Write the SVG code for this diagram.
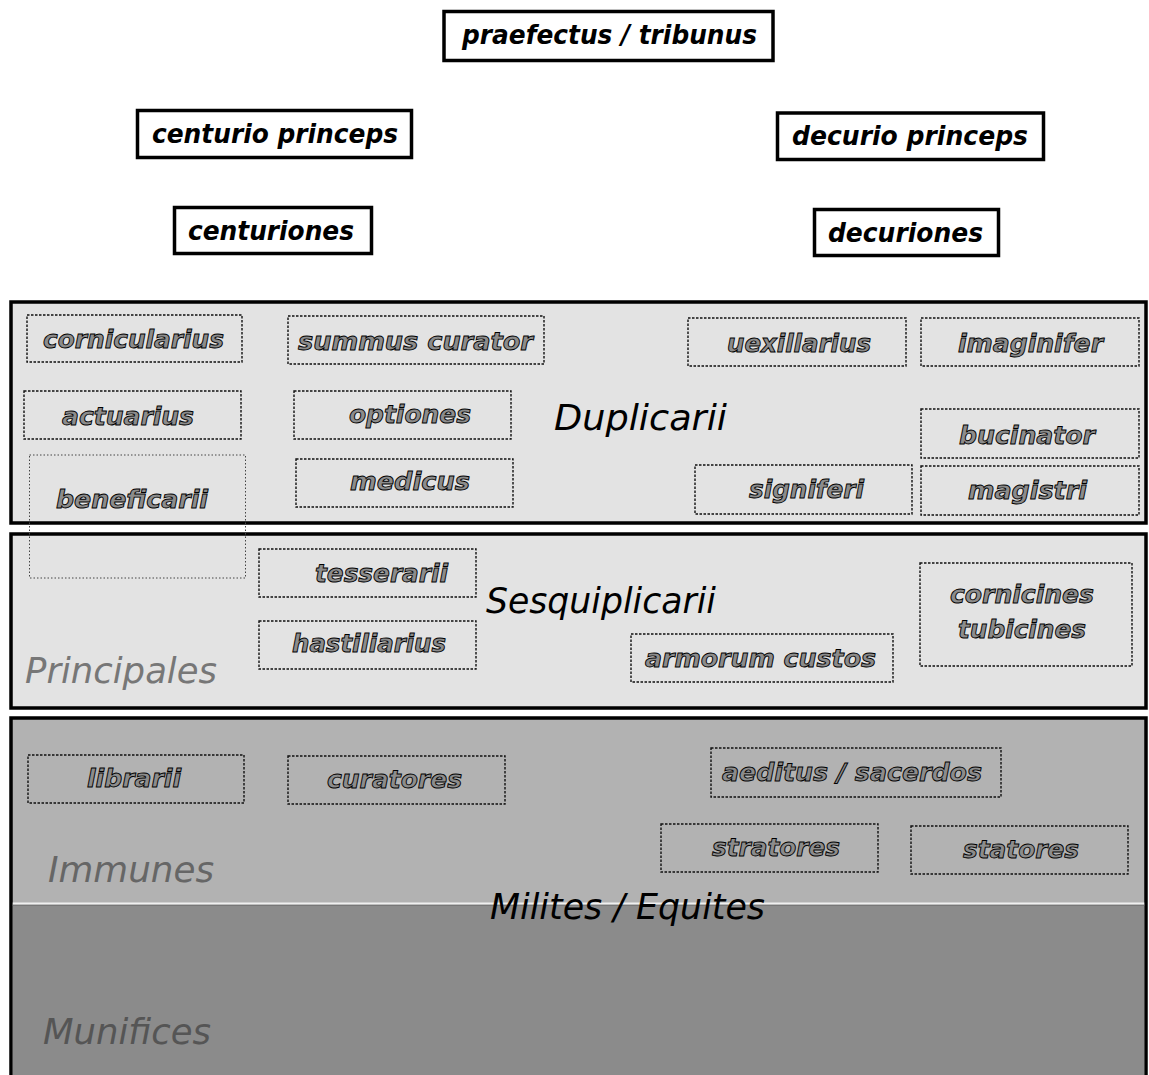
<svg xmlns="http://www.w3.org/2000/svg" width="1149" height="1075" viewBox="0 0 1149 1075">
<style>
.top rect{fill:#fff;stroke:#000;stroke-width:3.5}
.top text{font-family:"DejaVu Sans",sans-serif;font-weight:bold;font-style:italic;font-size:26px;fill:#000}
.panel{stroke:#000;stroke-width:3.5}
.dot rect{fill:none;stroke:#111;stroke-width:1.4;stroke-dasharray:2.5,1.5}
.dot text{font-family:"DejaVu Sans",sans-serif;font-weight:bold;font-style:italic;font-size:24px;fill:#8c8c8c;stroke:#000;stroke-width:0.9}
.lbl{font-family:"DejaVu Sans",sans-serif;font-style:italic;font-size:36px}
</style>
<rect width="1149" height="1075" fill="#fff"/>
<g id="panels">
<rect class="panel" x="11" y="302" width="1135" height="221" fill="#e3e3e3"/>
<rect class="panel" x="11" y="534" width="1135" height="174" fill="#e3e3e3"/>
<rect class="panel" x="11" y="718" width="1135" height="370" fill="#b2b2b2"/>
<rect x="12.75" y="904" width="1131.5" height="185" fill="#8b8b8b"/>
<line x1="12.75" y1="903.5" x2="1144.25" y2="903.5" stroke="#f0f0f0" stroke-width="2"/>
<line x1="12.75" y1="905.5" x2="1144.25" y2="905.5" stroke="#777" stroke-width="1"/>
</g>
<g id="labels">
<text class="lbl" x="554" y="430" textLength="173" lengthAdjust="spacingAndGlyphs" fill="#000">Duplicarii</text>
<text class="lbl" x="486" y="613" textLength="230" lengthAdjust="spacingAndGlyphs" fill="#000">Sesquiplicarii</text>
<text class="lbl" x="25" y="683" textLength="192" lengthAdjust="spacingAndGlyphs" fill="#777">Principales</text>
<text class="lbl" x="48" y="882" textLength="166" lengthAdjust="spacingAndGlyphs" fill="#666">Immunes</text>
<text class="lbl" x="43" y="1044" textLength="168" lengthAdjust="spacingAndGlyphs" fill="#555">Munifices</text>
<text class="lbl" x="490" y="919" font-size="39" font-stretch="condensed" textLength="275" lengthAdjust="spacingAndGlyphs" fill="#000">Milites / Equites</text>
</g>
<g id="praefectus" class="top"><rect x="444" y="11.5" width="329" height="49"/><text x="462" y="44" textLength="295" lengthAdjust="spacingAndGlyphs">praefectus / tribunus</text></g>
<g id="centurio-princeps" class="top"><rect x="137.5" y="110.5" width="274" height="47"/><text x="152" y="143" textLength="246" lengthAdjust="spacingAndGlyphs">centurio princeps</text></g>
<g id="centuriones" class="top"><rect x="174.5" y="207.5" width="197" height="46"/><text x="188" y="240" textLength="166" lengthAdjust="spacingAndGlyphs">centuriones</text></g>
<g id="decurio-princeps" class="top"><rect x="777.5" y="113" width="266" height="46.5"/><text x="792" y="145" textLength="236" lengthAdjust="spacingAndGlyphs">decurio princeps</text></g>
<g id="decuriones" class="top"><rect x="814.5" y="209.5" width="184" height="46"/><text x="828" y="242" textLength="155" lengthAdjust="spacingAndGlyphs">decuriones</text></g>
<g id="cornicularius" class="dot"><rect x="27" y="315" width="215" height="47"/><text x="43" y="348" textLength="181" lengthAdjust="spacingAndGlyphs">cornicularius</text></g>
<g id="summus-curator" class="dot"><rect x="288" y="316" width="256" height="48"/><text x="298" y="350" textLength="235" lengthAdjust="spacingAndGlyphs">summus curator</text></g>
<g id="uexillarius" class="dot"><rect x="688" y="318" width="218" height="48"/><text x="727" y="352" textLength="144" lengthAdjust="spacingAndGlyphs">uexillarius</text></g>
<g id="imaginifer" class="dot"><rect x="921" y="318" width="218" height="48"/><text x="958" y="352" textLength="145" lengthAdjust="spacingAndGlyphs">imaginifer</text></g>
<g id="actuarius" class="dot"><rect x="24" y="391" width="217" height="48"/><text x="62" y="425" textLength="132" lengthAdjust="spacingAndGlyphs">actuarius</text></g>
<g id="optiones" class="dot"><rect x="294" y="391" width="217" height="48"/><text x="349" y="423" textLength="122" lengthAdjust="spacingAndGlyphs">optiones</text></g>
<g id="bucinator" class="dot"><rect x="921" y="409" width="218" height="49"/><text x="959" y="444" textLength="136" lengthAdjust="spacingAndGlyphs">bucinator</text></g>
<g id="medicus" class="dot"><rect x="296" y="459" width="217" height="48"/><text x="350" y="490" textLength="120" lengthAdjust="spacingAndGlyphs">medicus</text></g>
<g id="beneficarii" class="dot"><rect x="29.5" y="455" width="216" height="123" style="stroke:#444;stroke-width:1;stroke-dasharray:1.5,2"/><text x="56" y="508" textLength="152" lengthAdjust="spacingAndGlyphs">beneficarii</text></g>
<g id="signiferi" class="dot"><rect x="695" y="465" width="217" height="49"/><text x="749" y="498" textLength="115" lengthAdjust="spacingAndGlyphs">signiferi</text></g>
<g id="magistri" class="dot"><rect x="921" y="466" width="218" height="49"/><text x="968" y="499" textLength="119" lengthAdjust="spacingAndGlyphs">magistri</text></g>
<g id="tesserarii" class="dot"><rect x="259" y="549" width="217" height="48"/><text x="315" y="582" textLength="133" lengthAdjust="spacingAndGlyphs">tesserarii</text></g>
<g id="hastiliarius" class="dot"><rect x="259" y="621" width="217" height="48"/><text x="292" y="652" textLength="154" lengthAdjust="spacingAndGlyphs">hastiliarius</text></g>
<g id="armorum-custos" class="dot"><rect x="631" y="634" width="262" height="48"/><text x="645" y="667" textLength="231" lengthAdjust="spacingAndGlyphs">armorum custos</text></g>
<g id="cornicines-tubicines" class="dot"><rect x="920" y="563" width="212" height="103"/><text x="950" y="603" textLength="144" lengthAdjust="spacingAndGlyphs">cornicines</text><text x="958" y="638" textLength="128" lengthAdjust="spacingAndGlyphs">tubicines</text></g>
<g id="librarii" class="dot"><rect x="28" y="755" width="216" height="48"/><text x="87" y="787" textLength="94" lengthAdjust="spacingAndGlyphs">librarii</text></g>
<g id="curatores" class="dot"><rect x="288" y="756" width="217" height="48"/><text x="327" y="788" textLength="135" lengthAdjust="spacingAndGlyphs">curatores</text></g>
<g id="aeditus-sacerdos" class="dot"><rect x="711" y="748" width="290" height="49"/><text x="722" y="781" textLength="260" lengthAdjust="spacingAndGlyphs">aeditus / sacerdos</text></g>
<g id="stratores" class="dot"><rect x="661" y="824" width="217" height="48"/><text x="712" y="856" textLength="128" lengthAdjust="spacingAndGlyphs">stratores</text></g>
<g id="statores" class="dot"><rect x="911" y="826" width="217" height="48"/><text x="963" y="858" textLength="116" lengthAdjust="spacingAndGlyphs">statores</text></g>
<g id="connectors"></g>
</svg>
